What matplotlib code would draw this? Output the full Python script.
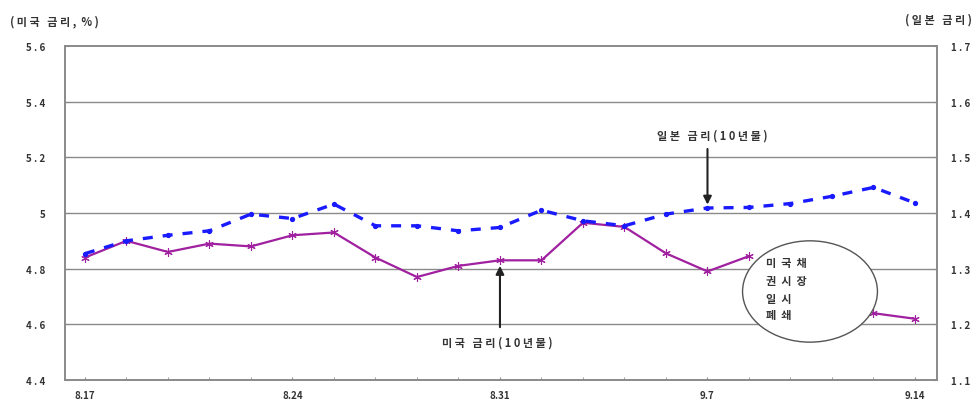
import numpy as np
import matplotlib
matplotlib.use("Agg")
import matplotlib.pyplot as plt
from matplotlib.patches import Ellipse

plt.rcParams['font.family'] = ['Noto Sans CJK KR', 'DejaVu Sans']

dates = ["8.17", "8.20", "8.21", "8.22", "8.23", "8.24", "8.27", "8.28", "8.29", "8.30",
         "8.31", "9.3", "9.4", "9.5", "9.6", "9.7", "9.10", "9.11", "9.12", "9.13", "9.14"]
us_rate = [4.84, 4.90, 4.86, 4.89, 4.88, 4.92, 4.93, 4.84, 4.77, 4.81,
           4.83, 4.83, 4.965, 4.95, 4.855, 4.79, 4.845, np.nan, np.nan, 4.64, 4.62]
jp_rate = [1.327, 1.35, 1.36, 1.368, 1.398, 1.39, 1.416, 1.377, 1.377, 1.368,
           1.374, 1.405, 1.386, 1.377, 1.398, 1.409, 1.41, 1.417, 1.43, 1.446, 1.418]
xtick_labels = ["8.17", "8.24", "8.31", "9.7", "9.14"]
left_ticks = [4.4, 4.6, 4.8, 5.0, 5.2, 5.4, 5.6]
left_tick_labels = ["4 . 4", "4 . 6", "4 . 8", "5", "5 . 2", "5 . 4", "5 . 6"]
right_ticks = [1.1, 1.2, 1.3, 1.4, 1.5, 1.6, 1.7]
right_tick_labels = ["1 . 1", "1 . 2", "1 . 3", "1 . 4", "1 . 5", "1 . 6", "1 . 7"]

W, H = 979, 406
fig = plt.figure(figsize=(W / 100, H / 100), dpi=100)
ax = fig.add_axes([65 / W, 1 - 381 / H, (937 - 65) / W, (381 - 47) / H])
ax2 = ax.twinx()

x = np.arange(len(dates))
grid_c = "#8a8a8a"
txt_c = "#333333"

ax.set_xlim(-0.48, 20.53)
ax.set_ylim(4.4, 5.6)
ax2.set_ylim(1.1, 1.7)

for v in left_ticks[1:-1]:
    ax.axhline(v, color=grid_c, lw=1.0, zorder=1)

ax.plot(x, us_rate, color="#a020a0", lw=1.6, marker=(6, 2, 0), ms=6, mew=0.8, zorder=3)
ax2.plot(x, jp_rate, color="#1a1aff", lw=2.4, ls=(0, (3, 3)), marker='o', ms=2.8, zorder=3)

for a in (ax, ax2):
    for s in a.spines.values():
        s.set_color(grid_c)
        s.set_linewidth(1.2)

ax.set_yticks(left_ticks)
ax.set_yticklabels(left_tick_labels, fontweight='bold')
ax2.set_yticks(right_ticks)
ax2.set_yticklabels(right_tick_labels, fontweight='bold')
ax.set_xticks(x, minor=True)
ax.set_xticks([0, 5, 10, 15, 20])
ax.set_xticklabels(xtick_labels, fontweight='bold')
ax.tick_params(axis='y', length=3, color=grid_c, labelsize=7, labelcolor=txt_c, pad=14, direction='in')
ax2.tick_params(axis='y', length=3, color=grid_c, labelsize=7, labelcolor=txt_c, pad=10, direction='in')
ax.tick_params(axis='x', which='both', length=2, color=grid_c, labelsize=7, labelcolor=txt_c, pad=7, direction='in')

# Ellipse (market closure)
ell = Ellipse((17.47, 4.718), 3.25, 0.364, facecolor='white', edgecolor='#555555', lw=1.0,
              transform=ax.transData, zorder=5)
ax2.add_patch(ell)

# Annotations
ax2.annotate("", xy=(15, 1.41), xytext=(15, 1.52), xycoords='data',
             arrowprops=dict(arrowstyle='-|>', color='#222222', lw=1.5, mutation_scale=12), zorder=6)
ax.annotate("", xy=(10, 4.82), xytext=(10, 4.58), xycoords='data',
            arrowprops=dict(arrowstyle='-|>', color='#222222', lw=1.5, mutation_scale=12), zorder=6)

def ftxt(px, py, s, ha='left', size=8):
    fig.text(px / W, 1 - py / H, s, ha=ha, va='center', fontsize=size, color=txt_c,
             fontweight='bold')

ftxt(712, 136, "일 본   금 리 ( 1 0 년 물 )", ha='center')
ftxt(497, 343, "미 국   금 리 ( 1 0 년 물 )", ha='center')
ftxt(10, 22, "( 미 국   금 리 ,  % )")
ftxt(972, 20, "( 일 본   금 리 )", ha='right')

ftxt(766, 264, "미  국  채")
ftxt(766, 282, "권  시  장")
ftxt(766, 299, "일  시")
ftxt(766, 316, "폐  쇄")

fig.savefig("out.png", dpi=100)
